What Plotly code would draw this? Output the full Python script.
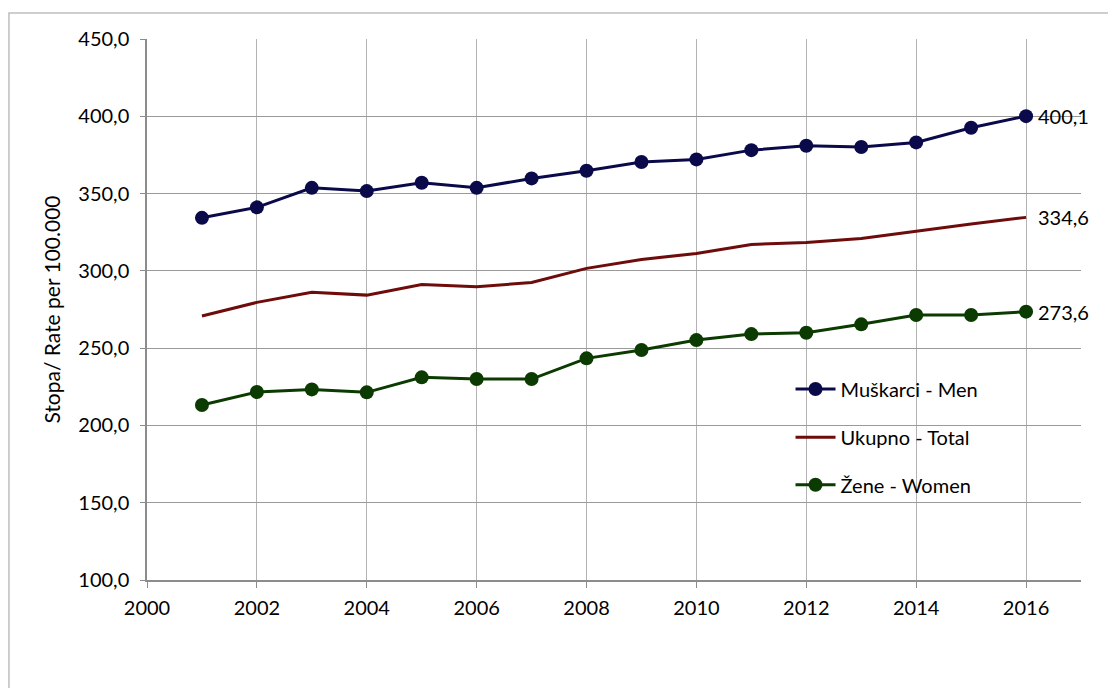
import plotly.graph_objects as go

years = list(range(2001, 2017))
men = [334.3, 341.1, 353.7, 351.6, 357.0, 353.7, 359.8, 364.8, 370.4, 372.1,
       378.1, 380.9, 380.1, 383.1, 392.6, 400.1]
total = [270.8, 279.6, 286.1, 284.3, 291.2, 289.7, 292.5, 301.6, 307.4, 311.3,
         317.1, 318.4, 321.0, 325.7, 330.3, 334.6]
women = [213.2, 221.6, 223.3, 221.4, 231.1, 230.0, 230.0, 243.4, 248.8, 255.2,
         259.1, 260.0, 265.4, 271.4, 271.4, 273.6]
names = ["Muškarci - Men", "Ukupno - Total", "Žene - Women"]
end_labels = ["400,1", "334,6", "273,6"]
x_ticks = list(range(2000, 2017, 2))
y_ticks = [100, 150, 200, 250, 300, 350, 400, 450]
y_tick_text = ["100,0", "150,0", "200,0", "250,0", "300,0", "350,0", "400,0", "450,0"]

FONT = "Lato, 'Open Sans', sans-serif"
FS = 20
c_men = "#0a0a4a"
c_tot = "#6e0b0b"
c_wom = "#0b3b00"

fig = go.Figure()
fig.add_trace(go.Scatter(x=years, y=men, name=names[0], mode="lines+markers",
                         line=dict(color=c_men, width=3),
                         marker=dict(color=c_men, size=14), legend="legend"))
fig.add_trace(go.Scatter(x=years, y=total, name=names[1], mode="lines",
                         line=dict(color=c_tot, width=3), legend="legend2"))
fig.add_trace(go.Scatter(x=years, y=women, name=names[2], mode="lines+markers",
                         line=dict(color=c_wom, width=3),
                         marker=dict(color=c_wom, size=14), legend="legend3"))

for series, lab in zip([men, total, women], end_labels):
    fig.add_annotation(x=years[-1], y=series[-1], text=lab, showarrow=False,
                       xanchor="left", yanchor="middle", xshift=10,
                       font=dict(family=FONT, size=FS, color="#000000"))

# outer chart border
fig.add_shape(type="rect", xref="paper", yref="paper",
              x0=-0.1478, x1=1.2, y0=-0.3, y1=1.048,
              line=dict(color="#bfbfbf", width=1.5), fillcolor="rgba(0,0,0,0)",
              layer="below")

leg_common = dict(xanchor="left", yanchor="middle", bgcolor="rgba(0,0,0,0)",
                  font=dict(family=FONT, size=FS, color="#000000"),
                  itemwidth=40)
LX = 0.689
fig.update_layout(
    width=1116, height=688,
    margin=dict(l=139, r=43, t=31, b=116),
    paper_bgcolor="white", plot_bgcolor="white",
    font=dict(family=FONT, size=FS, color="#000000"),
    showlegend=True,
    legend=dict(x=LX, y=0.353, **leg_common),
    legend2=dict(x=LX, y=0.264, **leg_common),
    legend3=dict(x=LX, y=0.176, **leg_common),
    xaxis=dict(range=[2000, 2017], tickvals=x_ticks, ticktext=[str(v) for v in x_ticks],
               showgrid=True, gridcolor="#b4b4b4", gridwidth=1.2,
               showline=True, linecolor="#8c8c8c", linewidth=1.5,
               ticks="outside", ticklen=6, tickcolor="#8c8c8c",
               ticklabelstandoff=3,
               zeroline=False, tickfont=dict(family=FONT, size=FS)),
    yaxis=dict(range=[100, 450], tickvals=y_ticks, ticktext=y_tick_text,
               showgrid=True, gridcolor="#9a9a9a", gridwidth=1.2,
               showline=True, linecolor="#8c8c8c", linewidth=1.5,
               ticks="outside", ticklen=5, tickcolor="#8c8c8c",
               ticklabelstandoff=7,
               zeroline=False, tickfont=dict(family=FONT, size=FS),
               title=dict(text="Stopa/ Rate per 100.000", standoff=12,
                          font=dict(family=FONT, size=21))),
)

fig.write_html("out.html")
